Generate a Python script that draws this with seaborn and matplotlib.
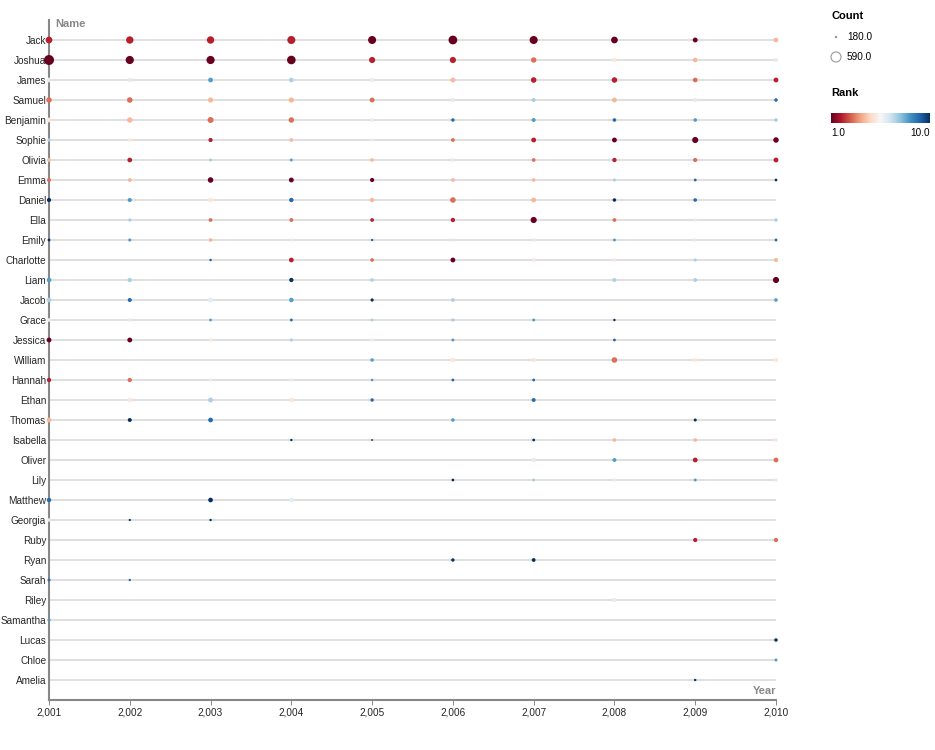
import numpy as np
import pandas as pd
import matplotlib
matplotlib.use("Agg")
import matplotlib.pyplot as plt
import seaborn as sns

years = list(range(2001, 2011))

# y axis order, top to bottom
name_order = ["Jack", "Joshua", "James", "Samuel", "Benjamin", "Sophie", "Olivia", "Emma",
              "Daniel", "Ella", "Emily", "Charlotte", "Liam", "Jacob", "Grace", "Jessica",
              "William", "Hannah", "Ethan", "Thomas", "Isabella", "Oliver", "Lily", "Matthew",
              "Georgia", "Ruby", "Ryan", "Sarah", "Riley", "Samantha", "Lucas", "Chloe", "Amelia"]

# top-10 names per year, listed in rank order (rank 1 first)
boys_top10 = {
    2001: ["Joshua", "Jack", "Samuel", "Thomas", "Benjamin", "James", "Jacob", "Liam", "Matthew", "Daniel"],
    2002: ["Joshua", "Jack", "Samuel", "Benjamin", "Ethan", "James", "Liam", "Daniel", "Jacob", "Thomas"],
    2003: ["Joshua", "Jack", "Benjamin", "Samuel", "Daniel", "Jacob", "Ethan", "James", "Thomas", "Matthew"],
    2004: ["Joshua", "Jack", "Benjamin", "Samuel", "Ethan", "Matthew", "James", "Jacob", "Daniel", "Liam"],
    2005: ["Jack", "Joshua", "Samuel", "Daniel", "James", "Benjamin", "Liam", "William", "Ethan", "Jacob"],
    2006: ["Jack", "Joshua", "Daniel", "James", "William", "Samuel", "Jacob", "Thomas", "Benjamin", "Ryan"],
    2007: ["Jack", "James", "Joshua", "Daniel", "William", "Oliver", "Samuel", "Benjamin", "Ethan", "Ryan"],
    2008: ["Jack", "James", "William", "Samuel", "Joshua", "Riley", "Liam", "Oliver", "Benjamin", "Daniel"],
    2009: ["Jack", "Oliver", "James", "Joshua", "William", "Samuel", "Liam", "Benjamin", "Daniel", "Thomas"],
    2010: ["Liam", "James", "Oliver", "Jack", "William", "Joshua", "Benjamin", "Jacob", "Samuel", "Lucas"],
}
boys_counts = {
    2001: [590, 362, 297, 270, 268, 266, 264, 260, 255, 246],
    2002: [450, 400, 300, 295, 260, 255, 250, 245, 240, 238],
    2003: [450, 400, 320, 280, 272, 270, 268, 266, 264, 262],
    2004: [480, 440, 295, 285, 268, 262, 258, 255, 252, 248],
    2005: [440, 330, 270, 250, 235, 228, 225, 222, 220, 215],
    2006: [490, 330, 300, 268, 250, 240, 228, 225, 222, 220],
    2007: [440, 300, 295, 270, 250, 245, 240, 238, 235, 232],
    2008: [360, 300, 298, 270, 250, 240, 238, 236, 226, 224],
    2009: [272, 268, 265, 262, 240, 236, 234, 228, 226, 210],
    2010: [330, 270, 268, 265, 240, 238, 228, 226, 224, 222],
}
girls_top10 = {
    2001: ["Jessica", "Hannah", "Emma", "Olivia", "Grace", "Georgia", "Sophie", "Samantha", "Sarah", "Emily"],
    2002: ["Jessica", "Olivia", "Hannah", "Emma", "Sophie", "Grace", "Ella", "Emily", "Sarah", "Georgia"],
    2003: ["Emma", "Sophie", "Ella", "Emily", "Jessica", "Hannah", "Olivia", "Grace", "Charlotte", "Georgia"],
    2004: ["Emma", "Charlotte", "Ella", "Sophie", "Hannah", "Emily", "Jessica", "Olivia", "Grace", "Isabella"],
    2005: ["Emma", "Ella", "Charlotte", "Olivia", "Jessica", "Sophie", "Grace", "Hannah", "Emily", "Isabella"],
    2006: ["Charlotte", "Ella", "Sophie", "Emma", "Olivia", "Emily", "Grace", "Jessica", "Hannah", "Lily"],
    2007: ["Ella", "Sophie", "Olivia", "Emma", "Charlotte", "Emily", "Lily", "Grace", "Hannah", "Isabella"],
    2008: ["Sophie", "Olivia", "Ella", "Isabella", "Charlotte", "Lily", "Emma", "Emily", "Jessica", "Grace"],
    2009: ["Sophie", "Ruby", "Olivia", "Isabella", "Emily", "Ella", "Charlotte", "Lily", "Emma", "Amelia"],
    2010: ["Sophie", "Olivia", "Ruby", "Charlotte", "Isabella", "Lily", "Ella", "Chloe", "Emily", "Emma"],
}
girls_counts = {
    2001: [270, 250, 240, 235, 230, 225, 220, 215, 210, 205],
    2002: [270, 265, 250, 235, 228, 225, 215, 212, 196, 192],
    2003: [300, 245, 230, 228, 222, 210, 208, 205, 200, 195],
    2004: [270, 265, 235, 230, 215, 212, 210, 208, 205, 195],
    2005: [245, 230, 226, 224, 215, 210, 208, 200, 196, 186],
    2006: [270, 250, 232, 228, 222, 220, 212, 208, 206, 204],
    2007: [330, 270, 228, 226, 224, 220, 210, 208, 206, 204],
    2008: [270, 250, 230, 226, 222, 215, 210, 208, 205, 196],
    2009: [328, 246, 244, 226, 215, 212, 210, 208, 205, 196],
    2010: [297, 270, 248, 244, 225, 222, 220, 210, 206, 204],
}

count_domain = (180, 590)
rank_domain = (1, 10)
size_range = (1, 52)

rows = []
for year in years:
    for names, counts in ((boys_top10[year], boys_counts[year]),
                          (girls_top10[year], girls_counts[year])):
        for rank, (name, count) in enumerate(zip(names, counts), start=1):
            rows.append({"Name": name, "Year": year, "Rank": rank, "Count": count})
df = pd.DataFrame(rows)
df["row"] = df["Name"].map({n: i for i, n in enumerate(name_order)})

sns.set_theme(style="white")
plt.rcParams["font.family"] = ["Liberation Sans", "DejaVu Sans"]

W, H = 935, 750
fig = plt.figure(figsize=(W / 100, H / 100), dpi=100)
ax = fig.add_axes([49 / W, 50 / H, 727 / W, 680 / H])

# grey rule behind each name
ax.hlines(range(len(name_order)), years[0], years[-1], color="#e0e0e0", lw=1.5, zorder=1)

sns.scatterplot(data=df, x="Year", y="row", hue="Rank", palette="RdBu", hue_norm=rank_domain,
                size="Count", sizes=size_range, size_norm=count_domain,
                linewidth=0, legend=False, ax=ax, zorder=3, clip_on=False)

ax.set_xlim(years[0], years[-1])
ax.set_ylim(len(name_order), -1)
ax.set_xticks(years)
ax.set_xticklabels([f"{y:,}" for y in years])
ax.set_yticks(range(len(name_order)))
ax.set_yticklabels(name_order)
ax.set_xlabel("")
ax.set_ylabel("")
ax.tick_params(axis="x", length=3.6, width=0.7, color="#888888", labelsize=7.2, pad=2, bottom=True)
ax.tick_params(axis="y", length=0, labelsize=7.2, pad=2)
for s in ["top", "right"]:
    ax.spines[s].set_visible(False)
for s in ["left", "bottom"]:
    ax.spines[s].set_color("#888888")
    ax.spines[s].set_linewidth(1.5)
    ax.spines[s].set_zorder(2)

fig.text(55 / W, 1 - 24 / H, "Name", fontsize=8, fontweight="bold", color="#888888", va="center")
fig.text(776 / W, 1 - 691 / H, "Year", fontsize=8, fontweight="bold", color="#888888",
         va="center", ha="right")

# legends
lax = fig.add_axes([0, 0, 1, 1])
lax.set_xlim(0, W)
lax.set_ylim(H, 0)
lax.axis("off")


def size_of(c):
    lo, hi = count_domain
    return size_range[0] + (size_range[1] - size_range[0]) * (c - lo) / (hi - lo)


lax.text(831, 16, "Count", fontsize=8, fontweight="bold", color="black", va="center")
for c, yy in zip(count_domain, (37, 57)):
    lax.scatter([836], [yy], s=size_of(c), facecolor="none", edgecolor="#999999", linewidth=0.8)
    lax.text(847, yy + 0.5, f"{c:.1f}", fontsize=7.2, va="center", color="black")

lax.text(831, 93, "Rank", fontsize=8, fontweight="bold", color="black", va="center")
cax = fig.add_axes([831 / W, 1 - 123 / H, 99 / W, 10 / H])
cax.imshow(np.linspace(0, 1, 256)[None, :], aspect="auto", cmap="RdBu")
cax.axis("off")
lax.text(831, 133, f"{rank_domain[0]:.1f}", fontsize=7.2, va="center", color="black")
lax.text(930, 133, f"{rank_domain[1]:.1f}", fontsize=7.2, va="center", ha="right", color="black")

fig.savefig("out.png", dpi=100)
